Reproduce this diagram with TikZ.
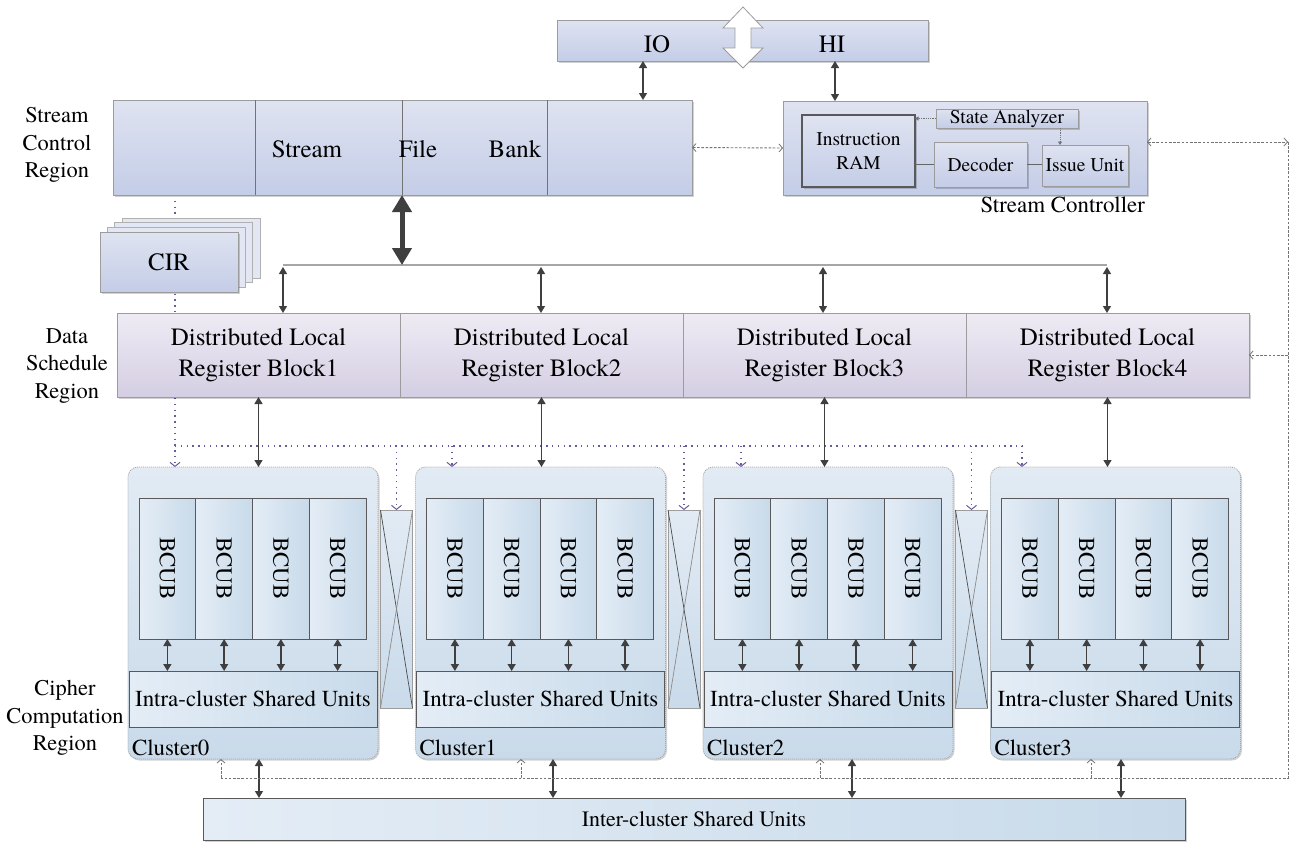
\documentclass[tikz,border=0pt]{standalone}
\usepackage{fontspec}
\setmainfont{TeX Gyre Termes}
\usetikzlibrary{arrows.meta,shadows,backgrounds}

\definecolor{lavTop}{HTML}{DFE3F1}
\definecolor{lavBot}{HTML}{C4CDE7}
\definecolor{cirBack}{HTML}{E3E7F4}
\definecolor{regTop}{HTML}{EEEBF4}
\definecolor{regBot}{HTML}{D5CEE3}
\definecolor{cluTop}{HTML}{E2EBF4}
\definecolor{cluBot}{HTML}{C9DAEA}
\definecolor{bcL}{HTML}{E4EDF6}
\definecolor{bcR}{HTML}{C8DAEA}
\definecolor{arr}{HTML}{3F3F3F}
\definecolor{dotc}{HTML}{6A5A9C}
\definecolor{edge}{HTML}{9C9C9C}
\definecolor{dashc}{HTML}{757575}

\begin{document}
\begin{tikzpicture}[x=1bp,y=-1bp,
  every node/.style={inner sep=0pt,outer sep=0pt},
  sz/.style 2 args={minimum width=#1bp,minimum height=#2bp},
  softshadow/.style={drop shadow={shadow xshift=1.5bp,shadow yshift=-1.5bp,fill=black,opacity=0.18}},
  txtbig/.style={font=\fontsize{25}{31}\selectfont},
  txtmid/.style={font=\fontsize{23}{28}\selectfont},
  txtsmall/.style={font=\fontsize{19.5}{24}\selectfont},
  regionlbl/.style={font=\fontsize{22.5}{27.5}\selectfont,align=center},
  plainbox/.style={draw=edge,line width=0.8bp,anchor=north west},
  lavbox/.style={plainbox,top color=lavTop,bottom color=lavBot,softshadow},
  regbox/.style={plainbox,top color=regTop,bottom color=regBot,softshadow,txtbig,align=center},
  clubox/.style={plainbox,draw=black!35,dash pattern=on 1bp off 1bp,rounded corners=10bp,
                 top color=cluTop,bottom color=cluBot,softshadow},
  bcbox/.style={plainbox,draw=black!65,line width=0.9bp,left color=bcL,right color=bcR},
  isubox/.style={plainbox,draw=black!65,line width=0.9bp,left color=bcL,right color=bcR,txtmid},
  xbbox/.style={plainbox,draw=edge,line width=0.7bp,top color=cluTop,bottom color=cluBot},
  dbl/.style={draw=arr,line width=1.3bp,{Triangle[length=7bp,width=8bp]}-{Triangle[length=7bp,width=8bp]}},
  bigdbl/.style={draw=arr,line width=5bp,{Triangle[length=17bp,width=19bp]}-{Triangle[length=17bp,width=19bp]}},
  dotline/.style={draw=dotc,line width=1.4bp,dash pattern=on 1.4bp off 4.4bp},
  dotarr/.style={dotline,-{Straight Barb[length=4bp,width=10bp,line width=1bp]}},
  dashline/.style={draw=dashc,line width=0.9bp,dash pattern=on 2.6bp off 1.6bp},
  dasharr/.style={dashline,-{Straight Barb[length=3.5bp,width=8bp,line width=0.8bp]}},
  dashdbl/.style={dashline,{Straight Barb[length=3.5bp,width=8bp,line width=0.8bp]}-{Straight Barb[length=3.5bp,width=8bp,line width=0.8bp]}},
  sadot/.style={draw=black!55,line width=0.8bp,densely dotted,-{Triangle[length=3.5bp,width=4bp]}}
]
\useasboundingbox (0,0) rectangle (1294,842);
\begin{scope}[on background layer]
  \fill[white] (0,0) rectangle (1294,842);
\end{scope}

% ---------- region labels ----------
\node[regionlbl] (lblSC) at (57,145) {Stream\\Control\\Region};
\node[regionlbl] (lblDS) at (67,366) {Data\\Schedule\\Region};
\node[regionlbl] (lblCC) at (65,718) {Cipher\\Computation\\Region};

% ---------- IO / HI interface ----------
\node[lavbox,sz={371}{41}] (iohi) at (557,20) {};
\node[txtbig,anchor=base] (io) at (657,52) {IO};
\node[txtbig,anchor=base] (hi) at (832,52) {HI};
\draw[edge,fill=white,line width=0.8bp]
  (743,7) -- (763,28) -- (751,28) -- (751,48) -- (763,48) -- (743,68)
  -- (723,48) -- (735,48) -- (735,28) -- (723,28) -- cycle;

% ---------- stream file bank ----------
\node[lavbox,sz={579}{95}] (sfb) at (113,100) {};
\coordinate (d1) at (255,0);
\coordinate (d2) at (402,0);
\coordinate (d3) at (547,0);
\foreach \d in {d1,d2,d3}
  \draw[black!55,line width=0.5bp] (sfb.north -| \d) -- (sfb.south -| \d);
\node[txtbig,anchor=base] (tStream) at (307,157) {Stream};
\node[txtbig,anchor=base] (tFile) at (418,157) {File};
\node[txtbig,anchor=base] (tBank) at (515,157) {Bank};

% ---------- stream controller ----------
\node[lavbox,sz={364}{94}] (sc) at (783,101) {};
\node[lavbox,sz={113}{72},draw=black!65,line width=1.2bp,txtsmall,align=center] (iram) at (802,115) {Instruction\\RAM};
\node[lavbox,sz={142}{19},txtsmall] (sa) at (936,109) {State Analyzer};
\node[lavbox,sz={93}{45},txtsmall] (dec) at (934,142) {Decoder};
\node[lavbox,sz={86}{41},txtsmall] (iu) at (1042,145) {Issue Unit};
\node[txtmid,anchor=base east] (scl) at (1145,212) {Stream Controller};
\draw[black!60,line width=1.2bp] (dec.west -| iram.east) -- (dec.west);
\draw[black!60,line width=1.2bp] (dec.east) -- (iu.west |- dec.east);
\draw[sadot] (sa.west) -- (sa.west -| iram.east);
\coordinate (iuTap) at (1060,0);
\draw[sadot] (sa.south -| iuTap) -- (iu.north -| iuTap);

% IO / HI links
\coordinate (ioTap) at (643,0);
\coordinate (hiTap) at (835,0);
\draw[dbl] (iohi.south -| ioTap) -- (sfb.north -| ioTap);
\draw[dbl] (iohi.south -| hiTap) -- (sc.north -| hiTap);
\draw[dashdbl] (sfb.east) -- (sc.west);

% ---------- CIR stack ----------
\foreach \k in {3,2,1}
  \node[plainbox,draw=edge!80,fill=cirBack,sz={138}{60}] (cir\k) at (100+7.3*\k,232-4.7*\k) {};
\node[lavbox,sz={138}{60},txtbig] (cir) at (100,232) {CIR};

% ---------- bus and register blocks ----------
\coordinate (busL) at (283,265);
\coordinate (busR) at (1107,265);
\draw[black!35,line width=1.4bp] (busL) -- (busR);
\draw[bigdbl] (sfb.south -| d2) -- (busL -| d2);

\foreach \i/\x in {1/117,2/400,3/683,4/966}
  \node[regbox,sz={283}{84}] (rb\i) at (\x,313) {Distributed Local\\Register Block\i};

\coordinate (t1) at (283,267);
\coordinate (t2) at (541,267);
\coordinate (t3) at (823,267);
\coordinate (t4) at (1107,267);
\foreach \i in {1,...,4}
  \draw[dbl] (t\i) -- (rb\i.north -| t\i);

% ---------- clusters ----------
\foreach \i in {0,...,3} {
  \pgfmathsetmacro\cx{128+287.5*\i}
  \node[clubox,sz={250}{292}] (cl\i) at (\cx,467) {};
  \foreach \j in {0,...,3} {
    \node[bcbox,sz={56.75}{141}] (b\i\j) at (\cx+11+56.75*\j,498) {};
    \node[txtmid,rotate=-90] (bt\i\j) at (b\i\j.center) {BCUB};
  }
  \node[isubox,sz={248}{56}] (isu\i) at (\cx+1,671) {Intra-cluster Shared Units};
  \foreach \j in {0,...,3}
    \draw[dbl] (b\i\j.south) -- (b\i\j.south |- isu\i.north);
  \node[txtmid,anchor=base west] (cn\i) at (\cx+4,755) {Cluster\i};
}

% crossbars between neighbouring clusters
\foreach \i in {1,2,3} {
  \node[xbbox,sz={32}{198}] (xb\i) at (128+287.5*\i-35,510) {};
  \draw[black!70,line width=0.7bp] (xb\i.north west) -- (xb\i.south east);
  \draw[black!45,line width=0.7bp] (xb\i.north east) -- (xb\i.south west);
}

% register blocks to clusters
\foreach \i/\c in {1/0,2/1,3/2,4/3}
  \draw[dbl] (rb\i.south) -- (rb\i.south |- cl\c.north);

% ---------- inter-cluster shared units ----------
\node[plainbox,draw=black!65,line width=0.9bp,left color=bcL,right color=bcR,softshadow,
      sz={982}{42},font=\fontsize{22}{26}\selectfont] (inter) at (203,798) {Inter-cluster Shared Units};
\coordinate (bb0) at (259,0);
\coordinate (bb1) at (553,0);
\coordinate (bb2) at (852,0);
\coordinate (bb3) at (1121,0);
\foreach \c in {0,...,3}
  \draw[dbl] (cl\c.south -| bb\c) -- (inter.north -| bb\c);

% ---------- control network (dashed) ----------
\coordinate (rt) at (1288,142);
\coordinate (rbot) at (1288,778);
\coordinate (ub0) at (221,778);
\coordinate (ub1) at (521,778);
\coordinate (ub2) at (820,778);
\coordinate (ub3) at (1091,778);
\draw[dashdbl] (sc.east |- rt) -- (rt);
\draw[dashline] (rt) -- (rbot) -- (ub0);
\draw[dasharr] (rb4.east -| rt) -- (rb4.east);
\foreach \c in {0,...,3}
  \draw[dasharr] (ub\c) -- (ub\c |- cl\c.south);

% ---------- configuration paths (dotted) ----------
\begin{scope}[on background layer]
  \coordinate (dj) at (175,446);
  \coordinate (dk) at (1022,446);
  \coordinate (c1t) at (452,446);
  \coordinate (c2t) at (741,446);
  \draw[dotarr] (sfb.south -| dj) -- (cl0.north -| dj);
  \draw[dotarr] (dj) -- (dk) -- (dk |- cl3.north);
  \draw[dotarr] (c1t) -- (c1t |- cl1.north);
  \draw[dotarr] (c2t) -- (c2t |- cl2.north);
  \foreach \i in {1,2,3}
    \draw[dotarr] (xb\i.north |- dj) -- (xb\i.north);
\end{scope}
\end{tikzpicture}
\end{document}
